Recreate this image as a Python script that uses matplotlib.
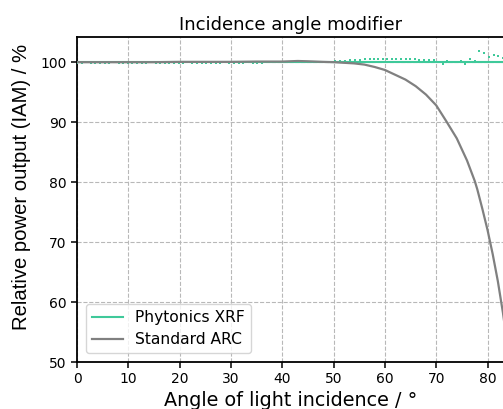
import numpy as np
import matplotlib
matplotlib.use("Agg")
import matplotlib.pyplot as plt

plt.rcParams['font.family'] = ['DejaVu Sans']

# Standard ARC (grey curve)
arc_angle = [0, 5, 10, 15, 20, 25, 30, 35, 40, 43, 45, 48, 50, 52, 54, 56, 58, 60,
             62, 64, 66, 68, 70, 72, 74, 76, 77.5, 78, 79, 80, 81, 82, 83, 84, 85]
arc_value = [100.0, 100.0, 100.0, 100.0, 100.05, 100.05, 100.05, 100.1, 100.1, 100.2,
             100.15, 100.05, 100.0, 99.9, 99.8, 99.6, 99.2, 98.7, 97.9, 97.1, 96.0,
             94.6, 92.8, 90.1, 87.3, 83.6, 80.2, 78.8, 75.5, 72.0, 68.0, 63.5, 58.2,
             52.0, 45.0]

# Phytonics XRF: fitted level and measured points
xrf_fit_angle = [0, 90]
xrf_fit_value = [100, 100]

xrf_angle = [0.0, 0.9, 1.8, 2.7, 3.6, 4.5, 5.4, 6.3, 7.2, 8.1, 9.0, 9.9, 10.8, 11.7,
             12.6, 13.5, 14.4, 15.3, 16.2, 17.1, 18.0, 18.9, 19.8, 20.7, 21.6, 22.5,
             23.4, 24.3, 25.2, 26.1, 27.0, 27.9, 28.8, 29.7, 30.6, 31.5, 32.4, 33.3,
             34.2, 35.1, 36.0, 36.9, 37.8, 38.7, 39.6, 40.5, 41.4, 42.3, 43.2, 44.1,
             45.0, 45.9, 46.8, 47.7, 48.6, 49.5,
             50.3, 51.3, 52.2, 53.2, 54.2, 55.2, 56.1, 57.0, 57.9, 58.7,
             59.6, 60.4, 61.3, 62.2, 63.2, 64.1, 64.9, 65.9, 66.7, 67.6, 68.5, 69.5,
             70.4, 71.3, 72.1, 73.0, 73.9, 74.9, 75.6, 76.6, 77.6, 78.4, 79.3, 80.3,
             81.2, 82.1, 83.0]
xrf_value = [99.9, 99.9, 99.95, 99.9, 99.9, 99.85, 99.9, 99.9, 99.95, 99.9, 99.9,
             99.9, 99.85, 99.9, 99.9, 99.9, 99.95, 99.9, 99.9, 99.9, 99.85, 99.9,
             99.9, 99.9, 99.95, 99.9, 99.9, 99.9, 99.9, 99.85, 99.9, 99.9, 99.95,
             99.9, 99.9, 99.9, 99.9, 99.95, 99.9, 99.9, 99.9, 99.95, 100.0, 99.95,
             100.0, 100.0, 100.05, 100.0, 100.05, 100.1, 100.05, 100.0, 100.05,
             100.05, 100.1, 100.1,
             100.15, 100.2, 100.25, 100.3, 100.35, 100.4, 100.45, 100.5, 100.5, 100.5,
             100.5, 100.5, 100.45, 100.5, 100.45, 100.5, 100.45, 100.45, 100.4, 100.4,
             100.35, 100.3,
             100.0, 99.7, 100.2, 100.1, 100.05, 100.2, 99.7, 100.55, 100.2, 101.9,
             101.6, 100.9, 101.2, 101.05, 100.7]

green = '#3fc99a'
grey = '#808080'

fig = plt.figure(figsize=(5.03, 4.09), dpi=100)
ax = fig.add_axes([77 / 503, 47 / 409, 428 / 503, 325 / 409])

ax.plot(xrf_fit_angle, xrf_fit_value, color=green, lw=1.5, label='Phytonics XRF', zorder=3)
ax.plot(xrf_angle, xrf_value, ls='none', marker='s', ms=1.8, mew=0,
        color=green, zorder=3)
ax.plot(arc_angle, arc_value, color=grey, lw=1.6, label='Standard ARC', zorder=4)

ax.set_xlim(0, 83.4)
ax.set_ylim(50, 104.2)
ax.set_xticks([0, 10, 20, 30, 40, 50, 60, 70, 80])
ax.set_yticks([50, 60, 70, 80, 90, 100])
ax.grid(True, ls='--', lw=0.8, color='#b8b8b8')
ax.set_axisbelow(True)

for s in ax.spines.values():
    s.set_linewidth(1.3)
ax.spines['right'].set_visible(False)
ax.tick_params(direction='out', length=4, width=1.1, labelsize=10)

ax.set_title('Incidence angle modifier', fontsize=13, pad=5)
ax.set_xlabel('Angle of light incidence / °', fontsize=13.8, labelpad=3)
ax.set_ylabel('Relative power output (IAM) / %', fontsize=14.6,
              family=['Liberation Sans', 'DejaVu Sans'])
ax.yaxis.set_label_coords(-0.107, 0.538)

ax.legend(loc='lower left', fontsize=11.2, framealpha=0.8, borderaxespad=0.55,
          handlelength=2.0, labelspacing=0.45)

fig.savefig('out.png', dpi=100)
